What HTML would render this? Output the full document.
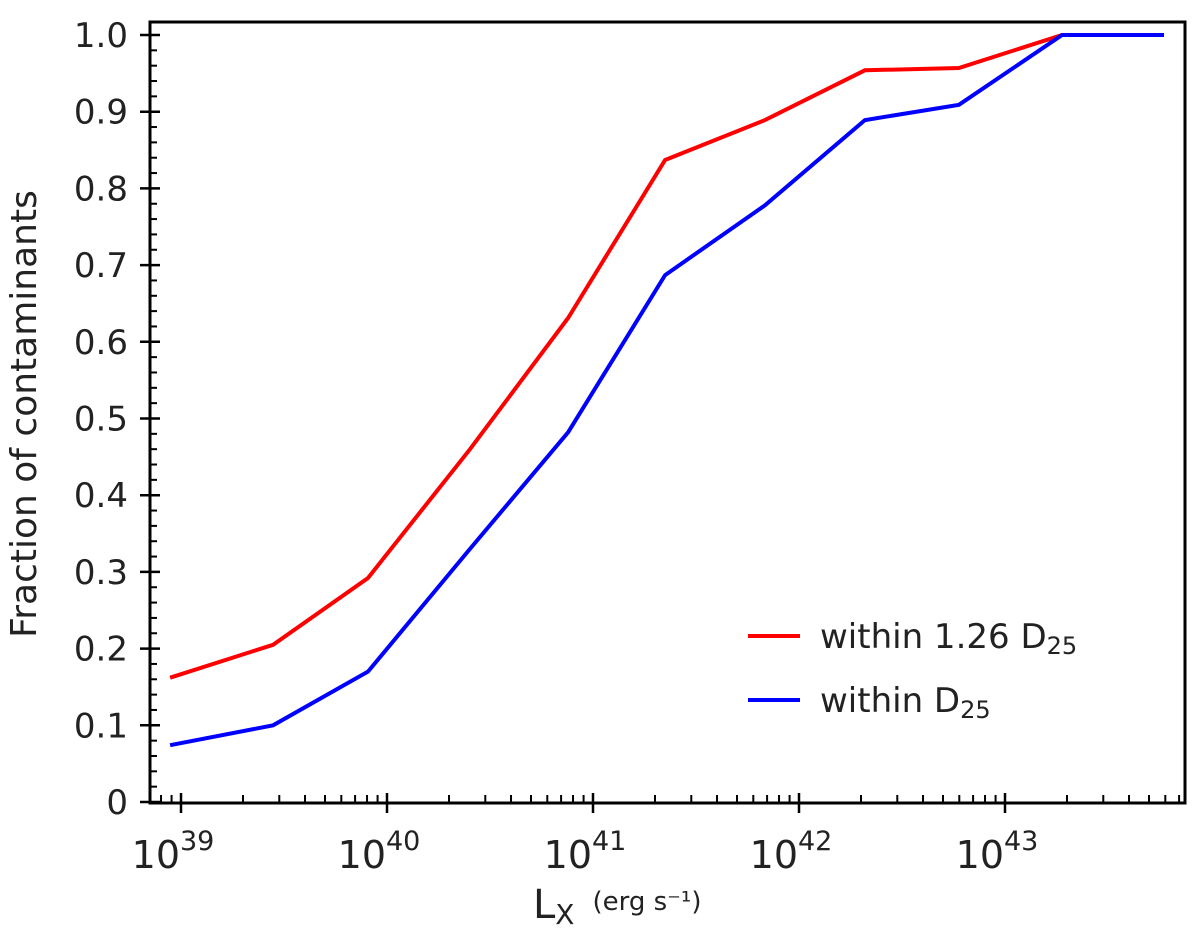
<!DOCTYPE html>
<html><head><meta charset="utf-8"><style>
body{margin:0;background:#fff;}
svg{display:block;font-family:"DejaVu Sans","Liberation Sans",sans-serif;}
</style></head><body>
<svg id="chart" width="1200" height="938" viewBox="0 0 1200 938">
<rect x="150" y="22" width="1035" height="781" fill="none" stroke="#000" stroke-width="3"/>
<g id="axes"></g>
<g id="series"></g>
<text transform="translate(36,414) rotate(-90)" text-anchor="middle" font-size="36" fill="#222">Fraction of contaminants</text>
<text x="533" y="918" font-size="40" fill="#222">L<tspan font-size="28" dy="6">X</tspan><tspan font-size="26" dy="-14" dx="18">(erg s⁻¹)</tspan></text>
<g>
<line x1="748" y1="636" x2="800" y2="636" stroke="#f00" stroke-width="4"/>
<text x="820" y="648" font-size="34" fill="#222">within 1.26 D<tspan font-size="24" dy="6">25</tspan></text>
<line x1="748" y1="700" x2="800" y2="700" stroke="#00f" stroke-width="4"/>
<text x="820" y="712" font-size="34" fill="#222">within D<tspan font-size="24" dy="6">25</tspan></text>
</g>
</svg>
<script>
const logL = [38.947, 39.447, 39.908, 40.403, 40.879, 41.35, 41.835, 42.32, 42.776, 43.277, 43.772];
const red = [0.162, 0.205, 0.292, 0.46, 0.631, 0.837, 0.889, 0.954, 0.957, 1.0, 1.0];
const blue = [0.074, 0.1, 0.17, 0.33, 0.482, 0.687, 0.778, 0.889, 0.909, 1.0, 1.0];
const yTicks = [0, 0.1, 0.2, 0.3, 0.4, 0.5, 0.6, 0.7, 0.8, 0.9, 1.0];
const yTickLabels = ["0", "0.1", "0.2", "0.3", "0.4", "0.5", "0.6", "0.7", "0.8", "0.9", "1.0"];
const xDecades = [39, 40, 41, 42, 43];

const NS = "http://www.w3.org/2000/svg";
const X = v => 181 + (v - 39) * 206;
const Y = v => 802 - v * 767;
const axes = document.getElementById('axes');
const series = document.getElementById('series');
function mk(tag, attrs, parent) {
  const e = document.createElementNS(NS, tag);
  for (const k in attrs) e.setAttribute(k, attrs[k]);
  parent.appendChild(e);
  return e;
}
yTicks.forEach((t, i) => {
  const l = mk('line', {x1: 140, x2: 160, y1: Y(t), y2: Y(t), stroke: '#000', 'stroke-width': 2.5}, axes);
  
  
  const tx = mk('text', {x: 128, y: Y(t) + 12, 'text-anchor': 'end', 'font-size': 34, fill: '#222'}, axes);
  tx.textContent = yTickLabels[i];
  
  
  if (i < yTicks.length - 1) {
    for (let m = 1; m < 5; m++) {
      const mm = mk('line', {x1: 150, x2: 157, y1: Y(t + m * 0.02), y2: Y(t + m * 0.02), stroke: '#000', 'stroke-width': 2}, axes);
      
      
    }
  }
});
for (let d = 38; d <= 43; d++) {
  for (let m = 1; m <= 9; m++) {
    const v = d + Math.log10(m);
    const px = X(v);
    if (px < 151 || px > 1184) continue;
    const major = m === 1;
    const l = mk('line', {x1: px, x2: px, y1: major ? 813 : 803, y2: major ? 793 : 795, stroke: '#000', 'stroke-width': major ? 2.5 : 2}, axes);
    
    
  }
}
xDecades.forEach(d => {
  const tx = mk('text', {x: X(d) - 8, y: 868, 'text-anchor': 'middle', 'font-size': 38, fill: '#222'}, axes);
  tx.innerHTML = '10<tspan font-size="27" dy="-18">' + d + '</tspan>';
  
  
});
function line(vals, color, name) {
  const pts = logL.map((x, i) => X(x).toFixed(1) + ',' + Y(vals[i]).toFixed(1)).join(' ');
  const p = mk('polyline', {points: pts, fill: 'none', stroke: color, 'stroke-width': 4}, series);
  
  
}
line(red, '#f00', 'red-line-1.26-d25');
line(blue, '#00f', 'blue-line-d25');
</script>
</body></html>
